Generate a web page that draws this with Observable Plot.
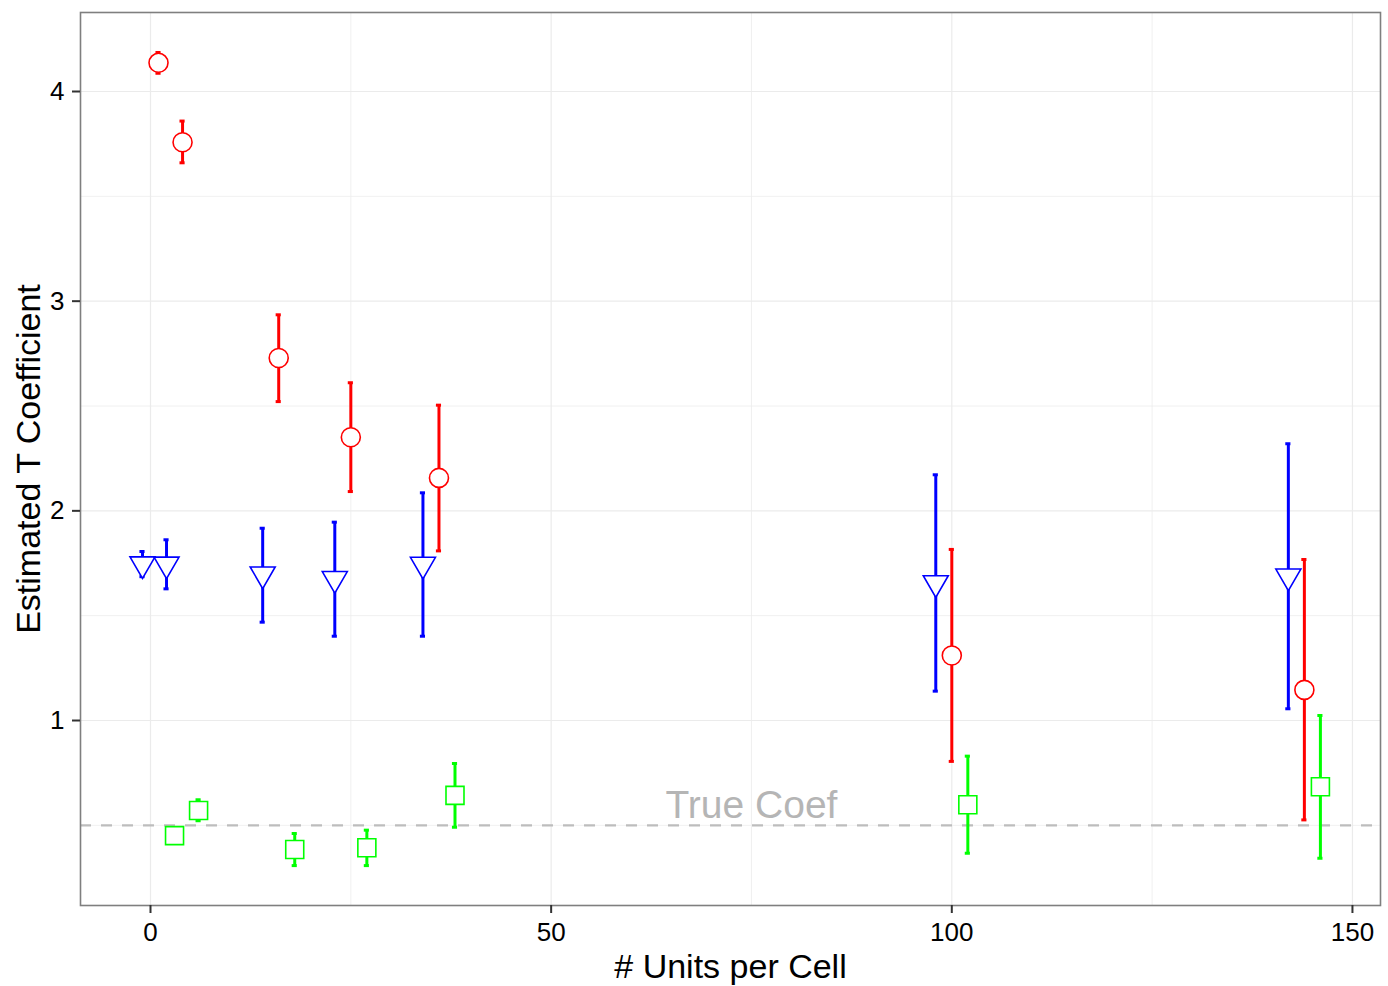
<!DOCTYPE html>
<html>
<head>
<meta charset="utf-8">
<script src="https://cdn.jsdelivr.net/npm/d3@7"></script>
<script src="https://cdn.jsdelivr.net/npm/@observablehq/plot@0.6"></script>
<style>
  html, body { margin: 0; padding: 0; background: #fff; }
  #chart svg { display: block; }
</style>
</head>
<body>
<div id="chart"></div>
<script>
// ---- data ----
const seriesNames = ["circle", "triangle", "square"];
const seriesColors = ["#ff0000", "#0000ff", "#00ff00"];

const redX   = [1, 4, 16, 25, 36, 100, 144];
const redEst = [4.137, 3.758, 2.729, 2.351, 2.157, 1.310, 1.146];
const redLo  = [4.087, 3.660, 2.521, 2.092, 1.809, 0.805, 0.526];
const redHi  = [4.186, 3.859, 2.935, 2.611, 2.504, 1.816, 1.768];

const blueX   = [-1, 2, 14, 23, 34, 98, 142];
const blueEst = [1.746, 1.745, 1.698, 1.676, 1.744, 1.656, 1.688];
const blueLo  = [1.686, 1.628, 1.469, 1.402, 1.402, 1.140, 1.056];
const blueHi  = [1.806, 1.862, 1.917, 1.946, 2.086, 2.172, 2.320];

const greenX   = [3, 6, 18, 27, 38, 102, 146];
const greenEst = [0.451, 0.571, 0.385, 0.393, 0.643, 0.598, 0.684];
const greenLo  = [0.421, 0.522, 0.308, 0.308, 0.491, 0.367, 0.343];
const greenHi  = [0.481, 0.622, 0.461, 0.477, 0.795, 0.830, 1.024];

const trueCoef = 0.5;
const trueCoefLabel = "True Coef";
const xTicks = [0, 50, 100, 150];
const xMinor = [25, 75, 125];
const yTicks = [1, 2, 3, 4];
const yMinor = [0.5, 1.5, 2.5, 3.5];
const xTitle = "# Units per Cell";
const yTitle = "Estimated T Coefficient";

// ---- build table ----
function rowsFor(name, X, E, L, H) {
  return X.map((x, i) => ({series: name, x, est: E[i], lo: L[i], hi: H[i]}));
}
const rows = [
  ...rowsFor("circle", redX, redEst, redLo, redHi),
  ...rowsFor("triangle", blueX, blueEst, blueLo, blueHi),
  ...rowsFor("square", greenX, greenEst, greenLo, greenHi)
];
const colorOf = Object.fromEntries(seriesNames.map((n, i) => [n, seriesColors[i]]));

// custom symbols
const triDown = {draw(ctx) { ctx.moveTo(-12.5, -7.2); ctx.lineTo(12.5, -7.2); ctx.lineTo(0, 14.4); ctx.closePath(); }};
const squareSym = {draw(ctx) { ctx.rect(-9, -9, 18, 18); }};
const circleSym = {draw(ctx) { ctx.moveTo(9.5, 0); ctx.arc(0, 0, 9.5, 0, 2 * Math.PI); ctx.closePath(); }};
const symOf = {circle: circleSym, triangle: triDown, square: squareSym};

const capHalf = 0.32;
const font = "'Liberation Sans', Arial, Helvetica, sans-serif";

const marks = [
  Plot.gridX(xMinor, {stroke: "#ececec", strokeOpacity: 1, strokeWidth: 0.8}),
  Plot.gridY(yMinor, {stroke: "#ececec", strokeOpacity: 1, strokeWidth: 0.8}),
  Plot.gridX(xTicks, {stroke: "#ebebeb", strokeOpacity: 1, strokeWidth: 1.2}),
  Plot.gridY(yTicks, {stroke: "#ebebeb", strokeOpacity: 1, strokeWidth: 1.2}),
  Plot.ruleY([trueCoef], {stroke: "#bdbdbd", strokeWidth: 2.2, strokeDasharray: "11,10"}),
  Plot.text([trueCoefLabel], {x: () => 75, y: () => trueCoef, dy: -7, lineAnchor: "bottom", textAnchor: "middle",
    fill: "#b5b5b5", fontSize: 39, fontFamily: font}),
];

for (const name of seriesNames) {
  const data = rows.filter(d => d.series === name);
  const c = colorOf[name];
  marks.push(
    Plot.ruleX(data, {x: "x", y1: "lo", y2: "hi", stroke: c, strokeWidth: 3}),
    Plot.ruleY(data, {y: "hi", x1: d => d.x - capHalf, x2: d => d.x + capHalf, stroke: c, strokeWidth: 3}),
    Plot.ruleY(data, {y: "lo", x1: d => d.x - capHalf, x2: d => d.x + capHalf, stroke: c, strokeWidth: 3})
  );
}
for (const name of seriesNames) {
  const data = rows.filter(d => d.series === name);
  marks.push(
    Plot.dot(data, {x: "x", y: "est", symbol: () => symOf[name], r: 9, stroke: colorOf[name], fill: "white", strokeWidth: 1.6})
  );
}

marks.push(
  Plot.frame({stroke: "#7f7f7f", strokeWidth: 1.6}),
  Plot.axisX({ticks: xTicks, tickSize: 8, tickPadding: 9, fontSize: 26, label: null, tickFormat: d => String(d), stroke: "#333", strokeWidth: 2, fill: "#000"}),
  Plot.axisY({ticks: yTicks, tickSize: 8, tickPadding: 8, fontSize: 26, label: null, tickFormat: d => String(d), stroke: "#333", strokeWidth: 2, fill: "#000"}),
  Plot.text([xTitle], {frameAnchor: "bottom", textAnchor: "middle", lineAnchor: "bottom", dy: 72, fontSize: 34, fontFamily: font, fill: "#000"}),
  Plot.text([yTitle], {frameAnchor: "left", textAnchor: "middle", lineAnchor: "bottom", rotate: -90, dx: -41, fontSize: 34, fontFamily: font, fill: "#000"})
);

const chart = Plot.plot({
  width: 1388,
  height: 986,
  marginLeft: 80,
  marginRight: 8,
  marginTop: 12,
  marginBottom: 81,
  style: {fontFamily: font, background: "white", color: "#000"},
  x: {domain: [-8.736, 153.5]},
  y: {domain: [0.1177, 4.3768]},
  symbol: {type: "identity"},
  marks
});
document.getElementById("chart").appendChild(chart);
</script>
</body>
</html>
